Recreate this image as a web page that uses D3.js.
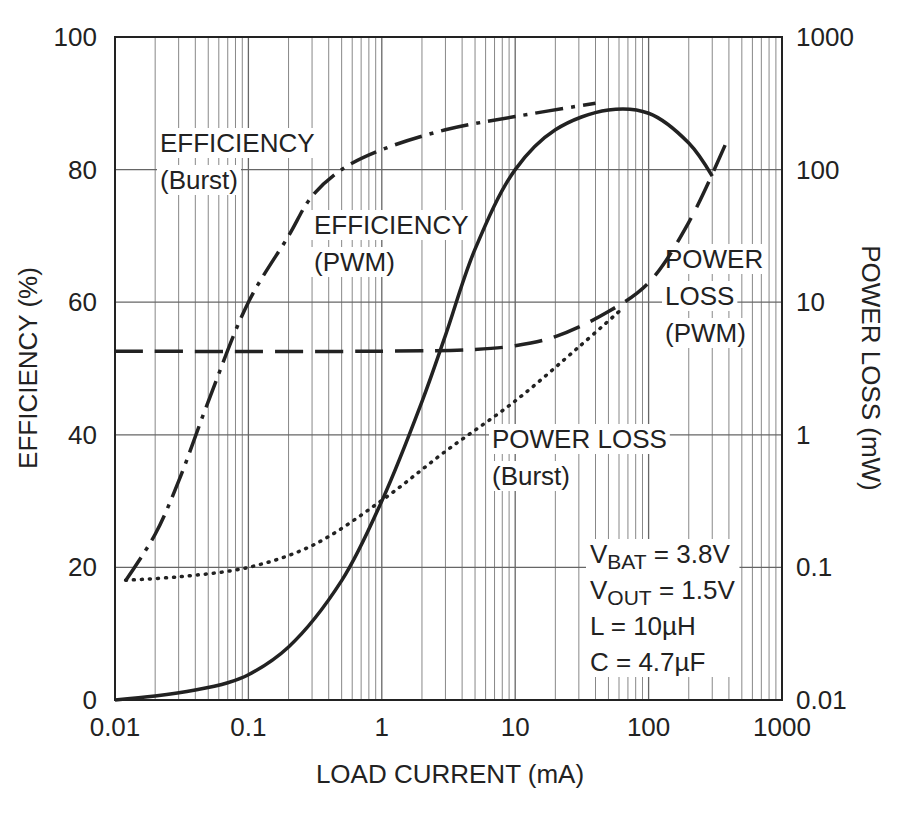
<!DOCTYPE html>
<html>
<head>
<meta charset="utf-8" />
<script src="https://d3js.org/d3.v7.min.js"></script>
<style>
  body { margin: 0; background: #fff; }
  text { font-family: "Liberation Sans", Arial, sans-serif; fill: #222; }
</style>
</head>
<body>
<svg width="900" height="824"></svg>
<script>
const effPwm = [[0.01,0],[0.02,0.6],[0.04,1.5],[0.07,2.6],[0.1,3.8],[0.2,8],[0.5,18],[1,30],[2,45],[3,55],[5,68],[10,80],[20,86],[50,89],[100,88.5],[200,84],[300,79]];
const effBurst = [[0.012,18],[0.02,25],[0.03,33],[0.05,45],[0.1,60],[0.2,70],[0.3,76],[0.5,80],[1,83],[3,86],[10,88],[40,90]];
const lossPwm = [[0.01,4.27],[1,4.27],[5,4.4],[10,4.7],[20,5.5],[50,8.5],[100,14],[200,40],[400,178]];
const lossBurst = [[0.012,0.08],[0.03,0.085],[0.1,0.1],[0.3,0.146],[1,0.32],[3,0.75],[10,1.8],[30,4.6],[60,8.5]];
const xTicks = [0.01,0.1,1,10,100,1000];
const xTickLabels = ["0.01","0.1","1","10","100","1000"];
const yTicks = [0,20,40,60,80,100];
const y2Ticks = [0.01,0.1,1,10,100,1000];
const y2TickLabels = ["0.01","0.1","1","10","100","1000"];

const svg = d3.select("svg");
const L = 115, R = 782, T = 37, B = 700;
const x = d3.scaleLog().domain([0.01,1000]).range([L,R]);
const y = d3.scaleLinear().domain([0,100]).range([B,T]);
const y2 = d3.scaleLog().domain([0.01,1000]).range([B,T]);

// grid
const minor = [];
for (let d = 0.01; d < 1000; d *= 10) for (let k = 2; k <= 9; k++) minor.push(d*k);
svg.append("g").selectAll("line").data(minor).join("line")
  .attr("x1", d => x(d)).attr("x2", d => x(d)).attr("y1", T).attr("y2", B)
  .attr("stroke", "#888").attr("stroke-width", 1);
svg.append("g").selectAll("line").data(xTicks).join("line")
  .attr("x1", d => x(d)).attr("x2", d => x(d)).attr("y1", T).attr("y2", B)
  .attr("stroke", "#666").attr("stroke-width", 1.3);
svg.append("g").selectAll("line").data(yTicks).join("line")
  .attr("x1", L).attr("x2", R).attr("y1", d => y(d)).attr("y2", d => y(d))
  .attr("stroke", "#666").attr("stroke-width", 1.3);
svg.append("rect").attr("x", L).attr("y", T).attr("width", R-L).attr("height", B-T)
  .attr("fill", "none").attr("stroke", "#222").attr("stroke-width", 2);

// tick labels
svg.append("g").selectAll("text").data(xTicks).join("text")
  .attr("x", d => x(d)).attr("y", B + 36).attr("text-anchor", "middle")
  .attr("font-size", 26).text((d,i) => xTickLabels[i]);
svg.append("g").selectAll("text").data(yTicks).join("text")
  .attr("x", L - 18).attr("y", d => y(d) + 9).attr("text-anchor", "end")
  .attr("font-size", 26).text(d => d);
svg.append("g").selectAll("text").data(y2Ticks).join("text")
  .attr("x", R + 14).attr("y", d => y2(d) + 9).attr("text-anchor", "start")
  .attr("font-size", 26).text((d,i) => y2TickLabels[i]);

svg.append("text").attr("x", 450).attr("y", 783).attr("text-anchor", "middle")
  .attr("font-size", 26).text("LOAD CURRENT (mA)");
svg.append("text").attr("transform", "translate(37,368) rotate(-90)").attr("text-anchor", "middle")
  .attr("font-size", 26).text("EFFICIENCY (%)");
svg.append("text").attr("transform", "translate(862,368) rotate(90)").attr("text-anchor", "middle")
  .attr("font-size", 26).text("POWER LOSS (mW)");

// annotation boxes
function label(lines, x0, y0, anchor) {
  const g = svg.append("g");
  lines.forEach((t, i) => {
    const txt = g.append("text").attr("x", x0).attr("y", y0 + i*37).attr("font-size", 26)
      .attr("text-anchor", anchor || "start").text(t);
    const bb = txt.node().getBBox();
    g.insert("rect", "text").attr("x", bb.x-3).attr("y", bb.y).attr("width", bb.width+6)
      .attr("height", bb.height).attr("fill", "#fff");
  });
}
label(["EFFICIENCY", "(Burst)"], 160, 152);
label(["EFFICIENCY", "(PWM)"], 314, 234);
label(["POWER", "LOSS", "(PWM)"], 665, 268);
label(["POWER LOSS", "(Burst)"], 492, 448);

const line = d3.line().curve(d3.curveCatmullRom.alpha(0.5));
const draw = (data, sy, dash, w) => svg.append("path")
  .attr("d", line(data.map(d => [x(d[0]), sy(d[1])])))
  .attr("fill", "none").attr("stroke", "#222").attr("stroke-width", w)
  .attr("stroke-dasharray", dash);
draw(lossBurst, y2, "1,7", 3.5).attr("stroke-linecap", "round");
draw(lossPwm, y2, "28,12", 3.5);
draw(effBurst, y, "28,8,4,8", 3.5);
draw(effPwm, y, null, 3.5);

// conditions
const cond = svg.append("g");
const rows = [["V","BAT"," = 3.8V"],["V","OUT"," = 1.5V"],["L = 10µH","",""],["C = 4.7µF","",""]];
const cbg = cond.append("rect").attr("fill", "#fff");
rows.forEach((r, i) => {
  const t = cond.append("text").attr("x", 590).attr("y", 563 + i*36).attr("font-size", 26);
  t.append("tspan").text(r[0]);
  if (r[1]) t.append("tspan").attr("dy", 6).attr("font-size", 21).text(r[1]);
  if (r[2]) t.append("tspan").attr("dy", -6).text(r[2]);
});
const cb = cond.node().getBBox();
cbg.attr("x", cb.x-4).attr("y", cb.y).attr("width", cb.width+8).attr("height", cb.height);
</script>
</body>
</html>
